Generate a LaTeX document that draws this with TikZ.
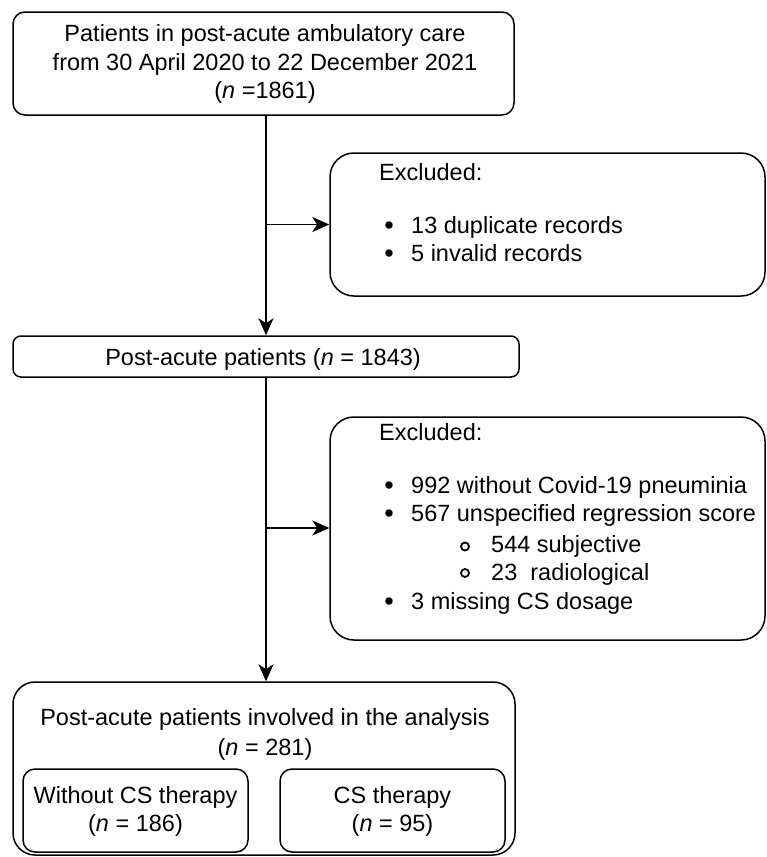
\documentclass[tikz,border=0pt]{standalone}
\usepackage{fontspec}
\setmainfont{Liberation Sans}
\usetikzlibrary{arrows.meta}
\begin{document}
\begin{tikzpicture}[x=1pt,y=-1pt,
  box/.style={draw, line width=1.5pt, rounded corners=#1, inner sep=0pt},
  box/.default=12pt,
  txt/.style={inner sep=0pt, font=\fontsize{23.5}{28}\selectfont},
  bul/.style={inner sep=0pt, font=\fontsize{27}{28}\selectfont},
  subbul/.style={circle, draw, line width=1.8pt, minimum size=8pt, inner sep=0pt},
  arr/.style={line width=1.3pt, -{Stealth[length=17pt,width=15pt,inset=5pt]}}]
\useasboundingbox (0,0) rectangle (767,857);
% boxes
\node[box, minimum width=501pt, minimum height=103pt] (top) at (263.5,63.5) {};
\node[box=24pt, minimum width=435pt, minimum height=143pt] (ex1) at (547.5,224.5) {};
\node[box=8pt, minimum width=506pt, minimum height=41pt] (mid) at (266,356.5) {};
\node[box=24pt, minimum width=435pt, minimum height=223pt] (ex2) at (547.5,528.5) {};
\node[box=22pt, minimum width=502pt, minimum height=173pt] (big) at (264,768.5) {};
\node[box=12pt, minimum width=225pt, minimum height=83pt] (subl) at (135.5,810.5) {};
\node[box=12pt, minimum width=225pt, minimum height=83pt] (subr) at (392.5,810.5) {};
% top texts
\node[txt, anchor=base] (t1) at (265,41) {Patients in post-acute ambulatory care};
\node[txt, anchor=base] (t2) at (265,70) {from 30 April 2020 to 22 December 2021};
\node[txt, anchor=base] (t3) at (265,98) {(\textit{n} =1861)};
% excluded 1
\node[txt, anchor=base west] (e1a) at (379,180) {Excluded:};
\node[bul, anchor=base] (e1b1) at (389,234) {•};
\node[txt, anchor=base west] (e1b) at (411,233) {13 duplicate records};
\node[bul, anchor=base] (e1c1) at (389,262) {•};
\node[txt, anchor=base west] (e1c) at (411,261) {5 invalid records};
% middle
\node[txt, anchor=base] (m1) at (263,365) {Post-acute patients (\textit{n} = 1843)};
% excluded 2
\node[txt, anchor=base west] (e2a) at (379,440) {Excluded:};
\node[bul, anchor=base] (e2b1) at (389,494) {•};
\node[txt, anchor=base west] (e2b) at (411,493) {992 without Covid-19 pneuminia};
\node[bul, anchor=base] (e2c1) at (389,522) {•};
\node[txt, anchor=base west] (e2c) at (411,521) {567 unspecified regression score};
\node[subbul] (e2d1) at (465,546.5) {};
\node[txt, anchor=base west] (e2d) at (491,552) {544 subjective};
\node[subbul] (e2e1) at (465,573) {};
\node[txt, anchor=base west] (e2e) at (491,580) {23\ \ radiological};
\node[bul, anchor=base] (e2f1) at (389,610) {•};
\node[txt, anchor=base west] (e2f) at (411,609) {3 missing CS dosage};
% bottom
\node[txt, anchor=base] (b1) at (265,725) {Post-acute patients involved in the analysis};
\node[txt, anchor=base] (b2) at (265,755) {(\textit{n} = 281)};
\node[txt, anchor=base] (l1) at (135.5,803) {Without CS therapy};
\node[txt, anchor=base] (l2) at (135.5,831) {(\textit{n} = 186)};
\node[txt, anchor=base] (r1) at (392.5,803) {CS therapy};
\node[txt, anchor=base] (r2) at (392.5,831) {(\textit{n} = 95)};
% connectors
\coordinate (j1) at (266,224.5);
\coordinate (j2) at (266,528);
\draw[arr] (top.south -| j1) -- (j1 |- mid.north);
\draw[arr] (j1) -- (ex1.west |- j1);
\draw[arr] (mid.south -| j2) -- (j2 |- big.north);
\draw[arr] (j2) -- (ex2.west |- j2);
\end{tikzpicture}
\end{document}
